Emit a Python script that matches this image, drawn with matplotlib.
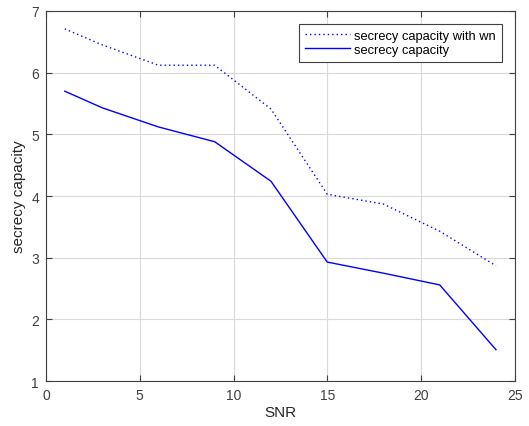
import matplotlib
matplotlib.use("Agg")
import matplotlib.pyplot as plt

snr = [1, 3, 6, 9, 12, 15, 18, 21, 24]
capacity_with_wn = [6.71, 6.45, 6.12, 6.12, 5.41, 4.03, 3.87, 3.43, 2.87]
capacity = [5.70, 5.43, 5.12, 4.88, 4.24, 2.93, 2.75, 2.56, 1.51]

plt.rcParams['font.family'] = ['Liberation Sans', 'DejaVu Sans']

fig = plt.figure(figsize=(5.29, 4.27), dpi=100)
ax = fig.add_axes([0.087, 0.105, 0.886, 0.867])

ax.plot(snr, capacity_with_wn, color='blue', linestyle=(0, (1, 2.2)), linewidth=1.0,
        label='secrecy capacity with wn')
ax.plot(snr, capacity, color='blue', linestyle='-', linewidth=1.0, label='secrecy capacity')

ax.set_xlim(0, 25)
ax.set_ylim(1, 7)
ax.set_xticks([0, 5, 10, 15, 20, 25])
ax.set_yticks([1, 2, 3, 4, 5, 6, 7])
ax.grid(True, color='#d9d9d9', linewidth=0.8)
ax.set_axisbelow(True)
ax.tick_params(direction='in', top=True, right=True, labelsize=10, colors='#404040',
               length=4, pad=5)
for s in ax.spines.values():
    s.set_color('#404040')
ax.set_xlabel('SNR', fontsize=11, color='#262626', labelpad=2)
ax.set_ylabel('secrecy capacity', fontsize=11, color='#262626')

leg = ax.legend(loc='upper right', fontsize=9.3, fancybox=False, framealpha=1,
                edgecolor='#404040', borderaxespad=1.0, handlelength=3.5,
                handletextpad=0.35, labelspacing=0.15, borderpad=0.45)
leg.get_frame().set_linewidth(0.8)

fig.savefig('out.png', dpi=100)
